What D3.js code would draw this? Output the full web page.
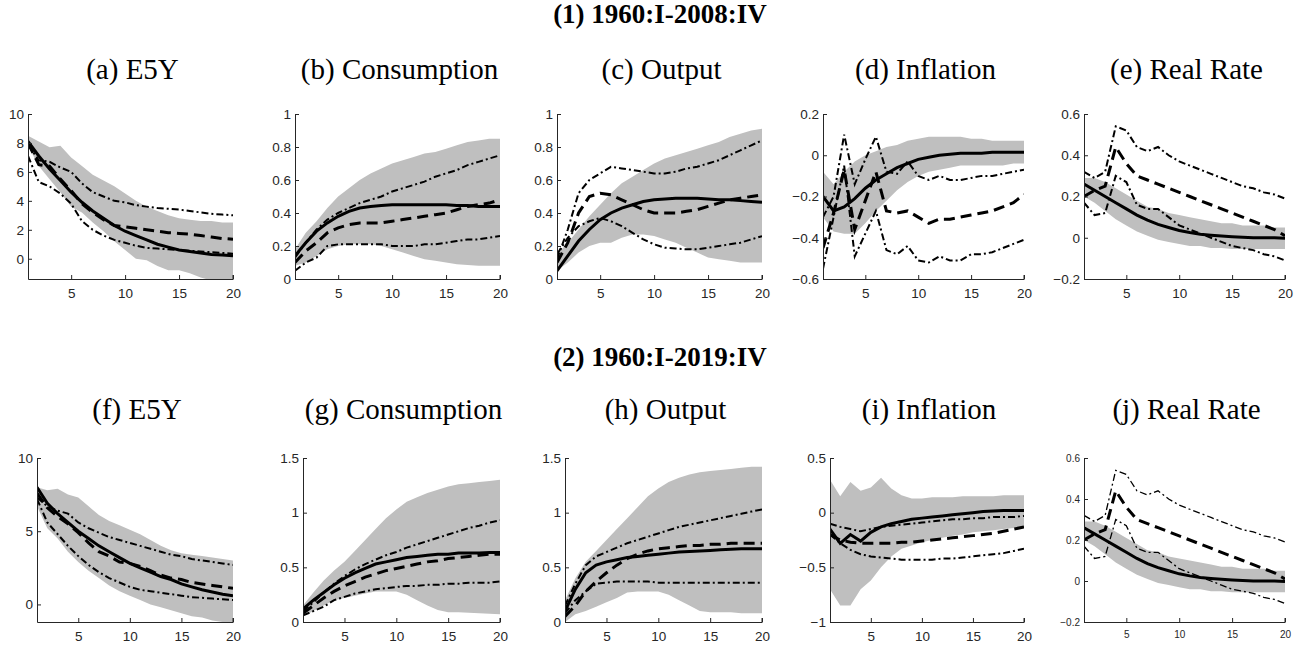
<!DOCTYPE html>
<html>
<head>
<meta charset="utf-8">
<script src="https://cdn.jsdelivr.net/npm/d3@7"></script>
<style>
body { margin:0; background:#fff; }
text { font-family: "Liberation Sans", Arial, sans-serif; }
</style>
</head>
<body>
<svg id="chart" width="1307" height="645"></svg>
<script>
var steps = d3.range(1, 21);
var xTicks = [5, 10, 15, 20];

// (a) E5Y 1960-2008
var aUp = [8.5,8.1,7.7,7.8,7.0,6.4,5.8,5.4,5.0,4.5,4.0,3.6,3.3,3.0,2.8,2.7,2.6,2.6,2.5,2.5];
var aLo = [7.8,6.4,5.5,4.6,3.6,3.2,2.5,1.9,1.2,0.6,0.0,-0.1,-0.5,-0.8,-0.8,-1.0,-1.3,-1.5,-1.5,-1.5];
var aSolid = [8.1,7.1,6.2,5.4,4.6,3.9,3.3,2.8,2.3,1.9,1.6,1.3,1.0,0.8,0.6,0.5,0.4,0.3,0.25,0.2];
var aDash = [8.0,6.5,6.4,5.5,4.7,3.8,3.2,2.7,2.3,2.2,2.1,2.0,1.9,1.8,1.75,1.7,1.6,1.5,1.4,1.35];
var aDdHi = [7.9,6.8,6.7,6.3,6.0,5.2,4.6,4.3,4.0,3.9,3.7,3.6,3.5,3.45,3.4,3.3,3.2,3.1,3.05,3.0];
var aDdLo = [7.1,5.3,5.0,4.5,3.8,2.6,2.0,1.6,1.3,1.1,0.9,0.75,0.7,0.65,0.6,0.55,0.5,0.45,0.4,0.35];

// (b) Consumption
var bUp = [0.18,0.28,0.35,0.43,0.50,0.55,0.60,0.64,0.67,0.70,0.72,0.74,0.76,0.77,0.79,0.81,0.83,0.84,0.85,0.85];
var bLo = [0.08,0.10,0.14,0.18,0.20,0.21,0.21,0.21,0.20,0.18,0.16,0.14,0.12,0.11,0.10,0.09,0.085,0.08,0.08,0.08];
var bSolid = [0.14,0.22,0.29,0.34,0.38,0.41,0.43,0.44,0.445,0.45,0.45,0.45,0.45,0.45,0.45,0.445,0.445,0.44,0.44,0.44];
var bDash = [0.10,0.17,0.22,0.28,0.31,0.33,0.34,0.34,0.34,0.35,0.36,0.37,0.38,0.39,0.40,0.42,0.44,0.45,0.46,0.48];
var bDdHi = [0.13,0.22,0.30,0.36,0.40,0.43,0.46,0.48,0.50,0.53,0.55,0.57,0.59,0.62,0.64,0.66,0.69,0.71,0.73,0.75];
var bDdLo = [0.05,0.10,0.13,0.20,0.21,0.21,0.21,0.21,0.21,0.20,0.20,0.20,0.21,0.21,0.22,0.23,0.24,0.24,0.25,0.26];

// (c) Output
var cUp = [0.15,0.22,0.30,0.38,0.45,0.52,0.58,0.62,0.66,0.70,0.73,0.75,0.77,0.79,0.81,0.83,0.86,0.88,0.90,0.91];
var cLo = [0.05,0.10,0.16,0.20,0.22,0.22,0.25,0.27,0.27,0.26,0.24,0.22,0.19,0.16,0.13,0.12,0.11,0.10,0.10,0.10];
var cSolid = [0.05,0.14,0.23,0.30,0.36,0.40,0.43,0.45,0.47,0.48,0.485,0.49,0.49,0.49,0.485,0.48,0.48,0.475,0.47,0.465];
var cDash = [0.10,0.22,0.40,0.50,0.52,0.51,0.48,0.45,0.42,0.40,0.40,0.40,0.41,0.42,0.44,0.46,0.48,0.49,0.50,0.51];
var cDdHi = [0.12,0.30,0.52,0.60,0.64,0.68,0.67,0.66,0.65,0.64,0.64,0.65,0.67,0.68,0.70,0.72,0.75,0.78,0.81,0.84];
var cDdLo = [0.15,0.25,0.32,0.35,0.37,0.35,0.32,0.28,0.24,0.21,0.19,0.185,0.18,0.18,0.19,0.20,0.21,0.22,0.24,0.26];

// (d) Inflation
var dUp = [-0.08,-0.14,-0.08,-0.03,0.0,0.02,0.04,0.05,0.07,0.08,0.09,0.09,0.09,0.09,0.08,0.08,0.07,0.07,0.07,0.07];
var dLo = [-0.3,-0.37,-0.38,-0.38,-0.33,-0.27,-0.22,-0.17,-0.13,-0.10,-0.08,-0.07,-0.06,-0.05,-0.05,-0.05,-0.05,-0.05,-0.04,-0.04];
var dSolid = [-0.2,-0.27,-0.25,-0.21,-0.16,-0.12,-0.09,-0.06,-0.04,-0.02,-0.01,0.0,0.005,0.01,0.01,0.01,0.015,0.015,0.015,0.015];
var dDash = [-0.45,-0.28,-0.07,-0.36,-0.22,-0.08,-0.27,-0.28,-0.27,-0.30,-0.33,-0.31,-0.31,-0.30,-0.29,-0.28,-0.27,-0.25,-0.23,-0.19];
var dDdHi = [-0.3,-0.2,0.1,-0.14,-0.02,0.09,-0.08,-0.09,-0.03,-0.10,-0.12,-0.10,-0.12,-0.12,-0.11,-0.10,-0.10,-0.09,-0.08,-0.07];
var dDdLo = [-0.55,-0.3,-0.05,-0.49,-0.38,-0.27,-0.46,-0.48,-0.44,-0.51,-0.52,-0.49,-0.51,-0.51,-0.48,-0.48,-0.47,-0.45,-0.43,-0.41];

// (e) Real Rate
var eUp = [0.29,0.29,0.27,0.24,0.21,0.18,0.15,0.14,0.12,0.11,0.10,0.09,0.08,0.07,0.07,0.06,0.06,0.06,0.05,0.05];
var eLo = [0.2,0.17,0.13,0.09,0.06,0.03,0.01,-0.01,-0.02,-0.03,-0.04,-0.04,-0.05,-0.05,-0.055,-0.055,-0.055,-0.055,-0.055,-0.055];
var eSolid = [0.26,0.23,0.20,0.17,0.14,0.11,0.085,0.065,0.05,0.035,0.025,0.017,0.012,0.008,0.005,0.003,0.0,0.0,0.0,-0.002];
var eDash = [0.2,0.23,0.25,0.44,0.36,0.30,0.28,0.26,0.24,0.22,0.20,0.18,0.16,0.14,0.12,0.10,0.08,0.06,0.04,0.01];
var eDdHi = [0.32,0.29,0.32,0.54,0.52,0.44,0.42,0.44,0.40,0.37,0.35,0.33,0.31,0.29,0.27,0.25,0.24,0.22,0.21,0.19];
var eDdLo = [0.17,0.11,0.12,0.30,0.27,0.16,0.14,0.14,0.10,0.06,0.04,0.02,0.0,-0.02,-0.04,-0.05,-0.06,-0.08,-0.09,-0.11];

// (f) E5Y 1960-2019
var fUp = [8.0,7.8,7.9,7.5,7.3,6.7,6.1,5.7,5.4,5.1,4.8,4.4,4.0,3.7,3.5,3.4,3.3,3.2,3.1,3.0];
var fLo = [6.7,5.2,4.5,3.6,2.9,2.3,1.8,1.3,0.9,0.6,0.3,0.0,-0.2,-0.4,-0.6,-0.8,-0.9,-1.1,-1.2,-1.2];
var fSolid = [8.0,6.9,6.2,5.6,5.0,4.5,4.0,3.6,3.2,2.8,2.5,2.2,1.9,1.7,1.4,1.2,1.0,0.85,0.7,0.6];
var fDash = [7.6,6.6,6.0,5.5,4.9,4.2,3.6,3.3,2.9,2.8,2.6,2.3,2.0,1.8,1.7,1.5,1.4,1.3,1.2,1.1];
var fDdHi = [7.3,6.7,6.4,6.2,5.6,5.2,4.9,4.6,4.4,4.2,4.0,3.8,3.6,3.4,3.3,3.1,3.0,2.9,2.8,2.7];
var fDdLo = [7.2,5.6,4.8,4.0,3.3,2.7,2.2,1.8,1.5,1.2,1.0,0.9,0.8,0.7,0.6,0.5,0.45,0.4,0.35,0.3];

// (g) Consumption
var gUp = [0.15,0.27,0.38,0.47,0.55,0.65,0.75,0.85,0.95,1.03,1.10,1.14,1.18,1.21,1.24,1.26,1.27,1.28,1.29,1.30];
var gLo = [0.05,0.1,0.15,0.2,0.22,0.24,0.26,0.28,0.28,0.28,0.25,0.2,0.15,0.11,0.09,0.09,0.085,0.08,0.075,0.07];
var gSolid = [0.12,0.2,0.27,0.34,0.40,0.45,0.49,0.53,0.55,0.57,0.59,0.6,0.61,0.62,0.62,0.63,0.63,0.63,0.635,0.635];
var gDash = [0.08,0.15,0.22,0.28,0.33,0.37,0.41,0.44,0.47,0.49,0.51,0.53,0.55,0.56,0.58,0.59,0.6,0.61,0.62,0.62];
var gDdHi = [0.1,0.18,0.27,0.35,0.42,0.48,0.53,0.57,0.61,0.64,0.68,0.71,0.74,0.77,0.80,0.83,0.86,0.88,0.91,0.93];
var gDdLo = [0.06,0.1,0.14,0.2,0.23,0.26,0.28,0.3,0.31,0.32,0.33,0.33,0.34,0.34,0.35,0.35,0.36,0.36,0.36,0.37];

// (h) Output
var hUp = [0.2,0.4,0.55,0.65,0.75,0.85,0.95,1.05,1.15,1.22,1.28,1.32,1.35,1.37,1.38,1.39,1.40,1.41,1.42,1.42];
var hLo = [0.0,0.07,0.1,0.14,0.18,0.22,0.27,0.28,0.28,0.28,0.25,0.2,0.15,0.1,0.09,0.09,0.09,0.08,0.08,0.08];
var hSolid = [0.1,0.3,0.45,0.52,0.55,0.57,0.59,0.6,0.61,0.62,0.63,0.64,0.645,0.65,0.655,0.66,0.665,0.67,0.67,0.67];
var hDash = [0.05,0.15,0.28,0.37,0.45,0.52,0.58,0.62,0.65,0.67,0.68,0.69,0.7,0.7,0.71,0.71,0.72,0.72,0.72,0.72];
var hDdHi = [0.15,0.35,0.52,0.6,0.64,0.68,0.72,0.75,0.78,0.81,0.84,0.87,0.89,0.91,0.93,0.95,0.97,0.99,1.01,1.03];
var hDdLo = [0.08,0.2,0.28,0.35,0.36,0.37,0.37,0.37,0.37,0.36,0.36,0.36,0.36,0.36,0.36,0.36,0.36,0.36,0.36,0.36];

// (i) Inflation
var iUp = [0.3,0.15,0.28,0.2,0.23,0.32,0.22,0.16,0.13,0.13,0.14,0.14,0.14,0.15,0.15,0.15,0.15,0.16,0.16,0.16];
var iLo = [-0.7,-0.85,-0.85,-0.7,-0.62,-0.5,-0.4,-0.33,-0.3,-0.27,-0.25,-0.23,-0.21,-0.2,-0.18,-0.17,-0.16,-0.15,-0.14,-0.13];
var iSolid = [-0.15,-0.28,-0.2,-0.26,-0.18,-0.13,-0.1,-0.08,-0.06,-0.05,-0.04,-0.03,-0.02,-0.01,0.0,0.01,0.015,0.02,0.02,0.02];
var iDash = [-0.2,-0.25,-0.27,-0.28,-0.28,-0.28,-0.28,-0.27,-0.27,-0.26,-0.25,-0.24,-0.23,-0.22,-0.21,-0.2,-0.19,-0.17,-0.15,-0.13];
var iDdHi = [-0.1,-0.13,-0.15,-0.17,-0.15,-0.13,-0.12,-0.11,-0.1,-0.09,-0.08,-0.07,-0.06,-0.06,-0.05,-0.05,-0.04,-0.04,-0.04,-0.03];
var iDdLo = [-0.2,-0.28,-0.34,-0.38,-0.4,-0.41,-0.42,-0.43,-0.43,-0.43,-0.43,-0.42,-0.42,-0.41,-0.4,-0.39,-0.38,-0.37,-0.35,-0.33];

// (j) Real Rate
var jUp = [0.29,0.29,0.27,0.24,0.21,0.18,0.15,0.14,0.12,0.11,0.10,0.09,0.08,0.07,0.07,0.06,0.06,0.06,0.05,0.05];
var jLo = [0.2,0.17,0.13,0.09,0.06,0.03,0.01,-0.01,-0.02,-0.03,-0.04,-0.04,-0.05,-0.05,-0.055,-0.055,-0.055,-0.055,-0.055,-0.055];
var jSolid = [0.26,0.23,0.20,0.17,0.14,0.11,0.085,0.065,0.05,0.035,0.025,0.017,0.012,0.008,0.005,0.003,0.0,0.0,0.0,-0.002];
var jDash = [0.2,0.23,0.25,0.44,0.36,0.30,0.28,0.26,0.24,0.22,0.20,0.18,0.16,0.14,0.12,0.10,0.08,0.06,0.04,0.01];
var jDdHi = [0.32,0.29,0.32,0.54,0.52,0.44,0.42,0.44,0.40,0.37,0.35,0.33,0.31,0.29,0.27,0.25,0.24,0.22,0.21,0.19];
var jDdLo = [0.17,0.11,0.12,0.30,0.27,0.16,0.14,0.14,0.10,0.06,0.04,0.02,0.0,-0.02,-0.04,-0.05,-0.06,-0.08,-0.09,-0.11];

var sectionTitles = ["(1) 1960:I-2008:IV", "(2) 1960:I-2019:IV"];

var panels = [
  {t:"(a) E5Y", l:28, r:233, row:0, dom:[-1.4,10], ticks:[0,2,4,6,8,10], s:[aUp,aLo,aSolid,aDash,aDdHi,aDdLo]},
  {t:"(b) Consumption", l:295, r:500, row:0, dom:[0,1], ticks:[0,0.2,0.4,0.6,0.8,1], s:[bUp,bLo,bSolid,bDash,bDdHi,bDdLo]},
  {t:"(c) Output", l:557, r:762, row:0, dom:[0,1], ticks:[0,0.2,0.4,0.6,0.8,1], s:[cUp,cLo,cSolid,cDash,cDdHi,cDdLo]},
  {t:"(d) Inflation", l:823, r:1024, row:0, dom:[-0.6,0.2], ticks:[-0.6,-0.4,-0.2,0,0.2], s:[dUp,dLo,dSolid,dDash,dDdHi,dDdLo]},
  {t:"(e) Real Rate", l:1084, r:1285, row:0, dom:[-0.2,0.6], ticks:[-0.2,0,0.2,0.4,0.6], s:[eUp,eLo,eSolid,eDash,eDdHi,eDdLo]},
  {t:"(f) E5Y", l:37, r:233, row:1, dom:[-1.2,10], ticks:[0,5,10], s:[fUp,fLo,fSolid,fDash,fDdHi,fDdLo]},
  {t:"(g) Consumption", l:303, r:500, row:1, dom:[0,1.5], ticks:[0,0.5,1,1.5], s:[gUp,gLo,gSolid,gDash,gDdHi,gDdLo]},
  {t:"(h) Output", l:565, r:762, row:1, dom:[0,1.5], ticks:[0,0.5,1,1.5], s:[hUp,hLo,hSolid,hDash,hDdHi,hDdLo]},
  {t:"(i) Inflation", l:830, r:1024, row:1, dom:[-1,0.5], ticks:[-1,-0.5,0,0.5], s:[iUp,iLo,iSolid,iDash,iDdHi,iDdLo]},
  {t:"(j) Real Rate", l:1084, r:1285, row:1, dom:[-0.2,0.6], ticks:[-0.2,0,0.2,0.4,0.6], s:[jUp,jLo,jSolid,jDash,jDdHi,jDdLo], small:true}
];

var rows = [{top:114, bot:279, sec:23, sub:79}, {top:458, bot:622, sec:366, sub:419}];

var svg = d3.select("#chart");

sectionTitles.forEach(function(s, i) {
  svg.append("text")
    .attr("x", 660).attr("y", rows[i].sec)
    .attr("text-anchor", "middle")
    .style("font-family", "'Liberation Serif', serif")
    .style("font-weight", "bold").style("font-size", "27px")
    .text(s);
});

panels.forEach(function(p) {
  var row = rows[p.row];
  var x = d3.scaleLinear().domain([1, 20]).range([p.l, p.r]);
  var y = d3.scaleLinear().domain(p.dom).range([row.bot, row.top]);
  var g = svg.append("g");
  var clipId = "clip" + p.t.charAt(1);
  g.append("clipPath").attr("id", clipId).append("rect")
    .attr("x", p.l).attr("y", row.top).attr("width", p.r - p.l).attr("height", row.bot - row.top);

  svg.append("text")
    .attr("x", (p.l + p.r) / 2 + 2).attr("y", row.sub)
    .attr("text-anchor", "middle")
    .style("font-family", "'Liberation Serif', serif")
    .style("font-size", "29px")
    .text(p.t);

  var body = g.append("g").attr("clip-path", "url(#" + clipId + ")");
  var up = p.s[0], lo = p.s[1];
  body.append("path")
    .datum(steps)
    .attr("fill", "#bfbfbf")
    .attr("d", d3.area().x(function(d) { return x(d); })
      .y0(function(d) { return y(lo[d - 1]); })
      .y1(function(d) { return y(up[d - 1]); }));

  var line = function(arr) {
    return d3.line().x(function(d) { return x(d); }).y(function(d) { return y(arr[d - 1]); })(steps);
  };
  var ddw = p.small ? 1.3 : 2;
  var styles = [
    {i:4, w:ddw, dash:"7,3,2,3"},
    {i:5, w:ddw, dash:"7,3,2,3"},
    {i:3, w:3, dash:"11,6"},
    {i:2, w:3, dash:null}
  ];
  styles.forEach(function(st) {
    body.append("path")
      .attr("d", line(p.s[st.i]))
      .attr("fill", "none").attr("stroke", "#000")
      .attr("stroke-width", st.w)
      .attr("stroke-dasharray", st.dash);
  });

  var fs = p.small ? "10px" : "13.5px";
  var xa = g.append("g").attr("transform", "translate(0," + row.bot + ")")
    .call(d3.axisBottom(x).tickValues(xTicks).tickSize(-4).tickSizeOuter(0).tickPadding(9));
  var ya = g.append("g").attr("transform", "translate(" + p.l + ",0)")
    .call(d3.axisLeft(y).tickValues(p.ticks).tickSize(-4).tickSizeOuter(0).tickPadding(4)
      .tickFormat(d3.format("")));
  [xa, ya].forEach(function(a) {
    a.select(".domain").attr("stroke", "#262626");
    a.selectAll(".tick line").attr("stroke", "#262626");
    a.selectAll("text").attr("fill", "#262626").style("font-size", fs)
      .style("font-family", "'Liberation Sans', Arial, sans-serif");
  });
  // tick at right end of x axis (MATLAB-like)
  xa.append("line").attr("x1", p.r).attr("x2", p.r).attr("y1", 0).attr("y2", -4).attr("stroke", "#262626");
});
</script>
</body>
</html>
